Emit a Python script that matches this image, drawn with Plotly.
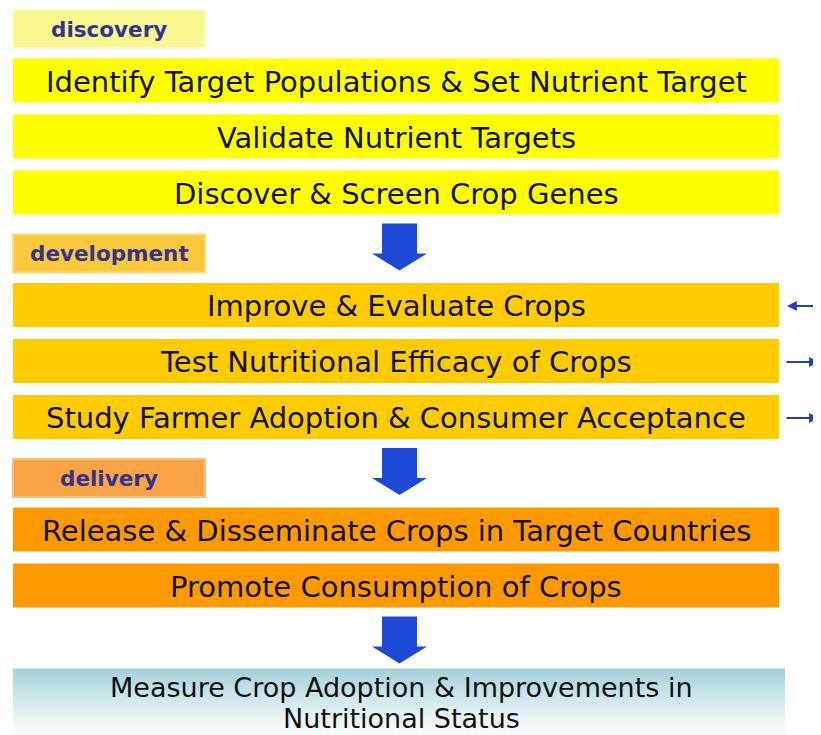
import plotly.graph_objects as go

# ---- data ----
stage_labels = ["discovery", "development", "delivery"]
stage_steps = [
    ["Identify Target Populations & Set Nutrient Target",
     "Validate Nutrient Targets",
     "Discover & Screen Crop Genes"],
    ["Improve & Evaluate Crops",
     "Test Nutritional Efficacy of Crops",
     "Study Farmer Adoption & Consumer Acceptance"],
    ["Release & Disseminate Crops in Target Countries",
     "Promote Consumption of Crops"],
]
# side-arrow direction per development step ("left" = incoming, "right" = outgoing)
side_arrows = [None, ["left", "right", "right"], None]
outcome_lines = ["Measure Crop Adoption & Improvements in", "Nutritional Status"]

# ---- styles ----
W, H = 821, 735
PAGE_OFF = 8              # default body margin of the html page
FONT = "DejaVu Sans"
label_fill = ["#f9f78f", "#fbc93c", "#f9a445"]
label_line = ["#fbfbc4", "#fdda7a", "#fbbe7c"]
box_fill = ["#ffff00", "#ffcc00", "#ff9900"]
label_text_color = "#34338f"
arrow_blue = "#1c4ad6"
thin_blue = "#1f3fc4"

X0, X1 = 13, 779          # step boxes
LX0, LX1 = 13, 205        # stage label boxes
LABEL_H, BOX_H = 38, 44
LABEL_GAP, BOX_GAP = 10.5, 12
ARROW_OFF, ARROW_LEN = 9, 47
CX = 399.5

shapes, annotations = [], []


def big_arrow(y_top):
    y_head = y_top + 30
    y_tip = y_top + ARROW_LEN
    sw, hw = 17.5, 27.5
    path = (f"M {CX-sw},{y_top} L {CX+sw},{y_top} L {CX+sw},{y_head} "
            f"L {CX+hw},{y_head} L {CX},{y_tip} L {CX-hw},{y_head} "
            f"L {CX-sw},{y_head} Z")
    shapes.append(dict(type="path", path=path, xref="x", yref="y",
                       fillcolor=arrow_blue, line=dict(width=0), layer="above"))
    return y_tip


y = 10.0
prev_bottom = None
for g, (lab, steps) in enumerate(zip(stage_labels, stage_steps)):
    if prev_bottom is not None:
        big_arrow(prev_bottom + ARROW_OFF)
        y = prev_bottom + 20
    # stage label
    shapes.append(dict(type="rect", xref="x", yref="y", x0=LX0, x1=LX1,
                       y0=y, y1=y + LABEL_H, fillcolor=label_fill[g],
                       line=dict(color=label_line[g], width=2), layer="below"))
    annotations.append(dict(x=(LX0 + LX1) / 2, y=y + LABEL_H / 2, xref="x", yref="y",
                            text=f"<b>{lab}</b>", showarrow=False,
                            font=dict(family=FONT, size=21.5, color=label_text_color)))
    y += LABEL_H + LABEL_GAP
    for s, txt in enumerate(steps):
        shapes.append(dict(type="rect", xref="x", yref="y", x0=X0, x1=X1,
                           y0=y, y1=y + BOX_H, fillcolor=box_fill[g],
                           line=dict(width=0), layer="below"))
        annotations.append(dict(x=(X0 + X1) / 2, y=y + BOX_H / 2 + 1, xref="x", yref="y",
                                text=txt, showarrow=False,
                                font=dict(family=FONT, size=29, color="#111111")))
        if side_arrows[g] is not None:
            d = side_arrows[g][s]
            yc = y + BOX_H / 2 + 1
            head, tail = (787, 822) if d == "left" else (819, 785)
            annotations.append(dict(x=head, y=yc, ax=tail, ay=yc, xref="x", yref="y",
                                    axref="x", ayref="y", text="", showarrow=True,
                                    arrowhead=2, arrowsize=1.1, arrowwidth=1.8,
                                    arrowcolor=thin_blue))
        prev_bottom = y + BOX_H
        y += BOX_H + BOX_GAP

# final arrow and outcome box
tip = big_arrow(prev_bottom + ARROW_OFF)
oy0 = tip + 5
oy1 = H + 5
fig = go.Figure()
fig.add_trace(go.Scatter(
    x=[13, 785, 785, 13, 13], y=[oy0, oy0, oy1, oy1, oy0],
    mode="lines", line=dict(width=0), fill="toself",
    fillgradient=dict(type="vertical", start=oy0, stop=oy1,
                      colorscale=[[0, "#a3cfd7"], [0.3, "#c3e2e7"], [0.75, "#eef7f8"], [1, "#ffffff"]]),
    hoverinfo="skip", showlegend=False))
for i, line in enumerate(outcome_lines):
    annotations.append(dict(x=401, y=oy0 + 18.5 + i * 31.5, xref="x", yref="y",
                            text=line, showarrow=False,
                            font=dict(family=FONT, size=27, color="#111111")))

fig.update_layout(
    width=W - PAGE_OFF, height=H - PAGE_OFF,
    margin=dict(l=0, r=0, t=0, b=0),
    paper_bgcolor="white", plot_bgcolor="white",
    xaxis=dict(range=[PAGE_OFF, W], visible=False, fixedrange=True),
    yaxis=dict(range=[H, PAGE_OFF], visible=False, fixedrange=True),
    shapes=shapes, annotations=annotations,
    showlegend=False, hovermode=False,
)
fig.write_html("out.html", config={"displayModeBar": False})
